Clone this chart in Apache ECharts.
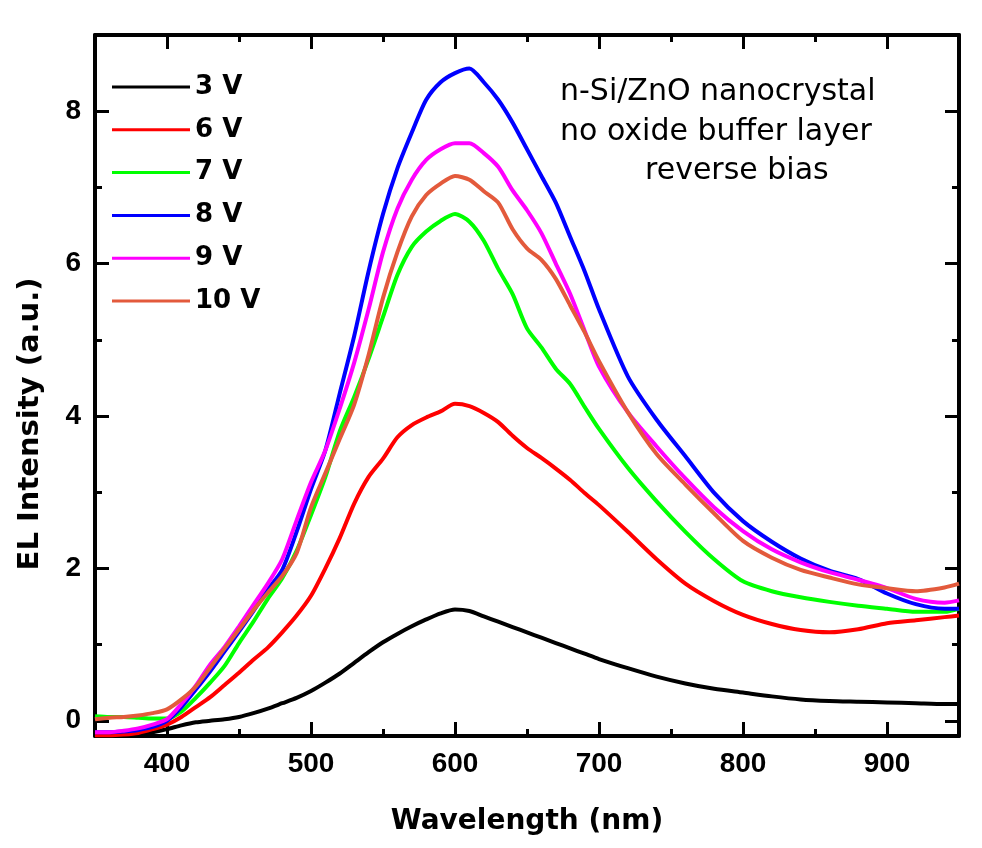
<!DOCTYPE html>
<html>
<head>
<meta charset="utf-8">
<script src="https://cdn.jsdelivr.net/npm/echarts@6/dist/echarts.min.js"></script>
<style>
html,body{margin:0;padding:0;background:#fff;}
#chart{width:982px;height:848px;}
</style>
</head>
<body>
<div id="chart"></div>
<script>
// ---- data ----
const wavelength = [350,360,370,380,390,400,410,420,430,440,450,460,470,480,490,500,510,520,530,540,550,560,570,580,590,600,610,620,630,640,650,660,670,680,690,700,720,740,760,780,800,820,840,860,880,900,920,940,950];

const seriesNames = ['3 V','6 V','7 V','8 V','9 V','10 V'];

const v3 = [-0.19,-0.19,-0.19,-0.18,-0.15,-0.11,-0.06,-0.02,0.0,0.02,0.05,0.1,0.16,0.23,0.3,0.39,0.5,0.62,0.76,0.9,1.03,1.14,1.24,1.33,1.41,1.46,1.44,1.37,1.3,1.23,1.16,1.09,1.02,0.95,0.88,0.81,0.69,0.58,0.49,0.42,0.37,0.32,0.28,0.26,0.25,0.24,0.23,0.22,0.22];
const v6 = [-0.19,-0.19,-0.18,-0.16,-0.11,-0.05,0.05,0.18,0.31,0.47,0.63,0.8,0.96,1.16,1.38,1.64,2.0,2.4,2.85,3.2,3.44,3.72,3.88,3.98,4.06,4.16,4.13,4.04,3.92,3.74,3.58,3.45,3.31,3.16,2.99,2.83,2.48,2.12,1.8,1.57,1.39,1.27,1.19,1.16,1.2,1.28,1.32,1.36,1.38];
const v7 = [0.06,0.05,0.05,0.04,0.03,0.03,0.12,0.3,0.5,0.72,1.02,1.3,1.6,1.87,2.23,2.7,3.2,3.8,4.25,4.75,5.3,5.85,6.22,6.42,6.56,6.65,6.55,6.3,5.93,5.6,5.15,4.9,4.62,4.42,4.12,3.83,3.32,2.88,2.48,2.12,1.83,1.7,1.62,1.56,1.51,1.47,1.43,1.43,1.47];
const v8 = [-0.15,-0.15,-0.14,-0.12,-0.08,0.0,0.18,0.41,0.65,0.91,1.17,1.44,1.72,1.98,2.48,3.04,3.55,4.3,5.05,5.9,6.65,7.25,7.72,8.15,8.38,8.5,8.56,8.38,8.15,7.85,7.5,7.15,6.8,6.35,5.9,5.4,4.52,3.95,3.47,2.99,2.62,2.35,2.13,1.97,1.86,1.67,1.53,1.47,1.47];
const v9 = [-0.15,-0.15,-0.13,-0.1,-0.05,0.02,0.22,0.46,0.74,0.97,1.24,1.52,1.8,2.12,2.63,3.13,3.55,4.1,4.7,5.4,6.15,6.72,7.1,7.36,7.5,7.58,7.58,7.45,7.27,6.96,6.7,6.4,6.0,5.6,5.12,4.65,4.05,3.6,3.18,2.8,2.49,2.25,2.08,1.95,1.85,1.74,1.6,1.55,1.58];
const v10 = [0.02,0.04,0.05,0.07,0.1,0.15,0.28,0.45,0.7,0.95,1.2,1.45,1.68,1.9,2.2,2.8,3.25,3.7,4.15,4.8,5.55,6.15,6.62,6.9,7.05,7.15,7.1,6.95,6.8,6.45,6.2,6.05,5.8,5.45,5.1,4.72,4.05,3.5,3.1,2.72,2.36,2.14,1.98,1.88,1.79,1.74,1.7,1.75,1.8];

const xTickLabels = ['400','500','600','700','800','900'];
const yTickLabels = ['0','2','4','6','8'];

const annotation = ['n-Si/ZnO nanocrystal','no oxide buffer layer','reverse bias'];
const xTitle = 'Wavelength (nm)';
const yTitle = 'EL Intensity (a.u.)';

// ---- chart ----
const colors = ['#000000','#ff0000','#00ff00','#0000ff','#ff00ff','#e35a3c'];
const values = [v3,v6,v7,v8,v9,v10];

const chart = echarts.init(document.getElementById('chart'), null, {renderer:'canvas'});

const tickFont = {fontFamily:'Liberation Sans, Arial, sans-serif', fontWeight:'bold', fontSize:28, color:'#000'};

function xAxisDef(position, major) {
  return {
    type:'value', position: position, min:350, max:950,
    splitNumber: major ? 6 : 12,
    axisLine:{show: major, onZero:false, lineStyle:{color:'#000', width:4}},
    axisTick:{show:true, inside:true, length: major ? 14 : 7, lineStyle:{color:'#000', width:3}},
    axisLabel:{show: major && position==='bottom', margin:14, ...tickFont,
      formatter: function(v){ const s = String(v); return xTickLabels.indexOf(s) >= 0 ? s : ''; }},
    splitLine:{show:false}
  };
}
function yAxisDef(position, major) {
  return {
    type:'value', position: position, min:-0.2, max:9,
    splitNumber: major ? 5 : 9,
    axisLine:{show: major, onZero:false, lineStyle:{color:'#000', width:4}},
    axisTick:{show:true, inside:true, length: major ? 14 : 7, lineStyle:{color:'#000', width:3}},
    axisLabel:{show: major && position==='left', margin:14, ...tickFont,
      formatter: function(v){ const s = String(v); return yTickLabels.indexOf(s) >= 0 ? s : ''; }},
    splitLine:{show:false}
  };
}

const option = {
  backgroundColor:'#ffffff',
  animation:false,
  grid:{left:95, right:23, top:35, bottom:112, containLabel:false, outerBoundsMode:'none'},
  xAxis:[xAxisDef('bottom',true), xAxisDef('bottom',false), xAxisDef('top',true), xAxisDef('top',false)],
  yAxis:[yAxisDef('left',true), yAxisDef('left',false), yAxisDef('right',true), yAxisDef('right',false)],
  legend:{
    orient:'vertical', left:112, top:73, padding:0,
    icon:'rect', itemWidth:78, itemHeight:3, itemGap:14.8,
    textStyle:{fontFamily:'DejaVu Sans, sans-serif', fontWeight:'bold', fontSize:26, lineHeight:28, color:'#000'},
    data: seriesNames
  },
  series: seriesNames.map(function(name, i){
    return {
      name:name, type:'line', xAxisIndex:0, yAxisIndex:0,
      data: wavelength.map(function(w, j){ return [w, values[i][j]]; }),
      showSymbol:false, symbol:'none', smooth:0.25,
      lineStyle:{color:colors[i], width:4},
      itemStyle:{color:colors[i]},
      z: 2 + i
    };
  }),
  graphic:[
    {type:'text', left:560, top:77, style:{text:annotation[0], font:'30px "DejaVu Sans", sans-serif', fill:'#000'}},
    {type:'text', left:560, top:117, style:{text:annotation[1], font:'30px "DejaVu Sans", sans-serif', fill:'#000'}},
    {type:'text', left:645, top:156, style:{text:annotation[2], font:'30px "DejaVu Sans", sans-serif', fill:'#000'}},
    {type:'text', x:527, y:822, style:{text:xTitle, font:'bold 28px "DejaVu Sans", sans-serif', fill:'#000', align:'center', verticalAlign:'middle'}},
    {type:'text', x:30, y:424, rotation:Math.PI/2, style:{text:yTitle, font:'bold 29px "DejaVu Sans", sans-serif', fill:'#000', align:'center', verticalAlign:'middle'}}
  ]
};
chart.setOption(option);
</script>
</body>
</html>
